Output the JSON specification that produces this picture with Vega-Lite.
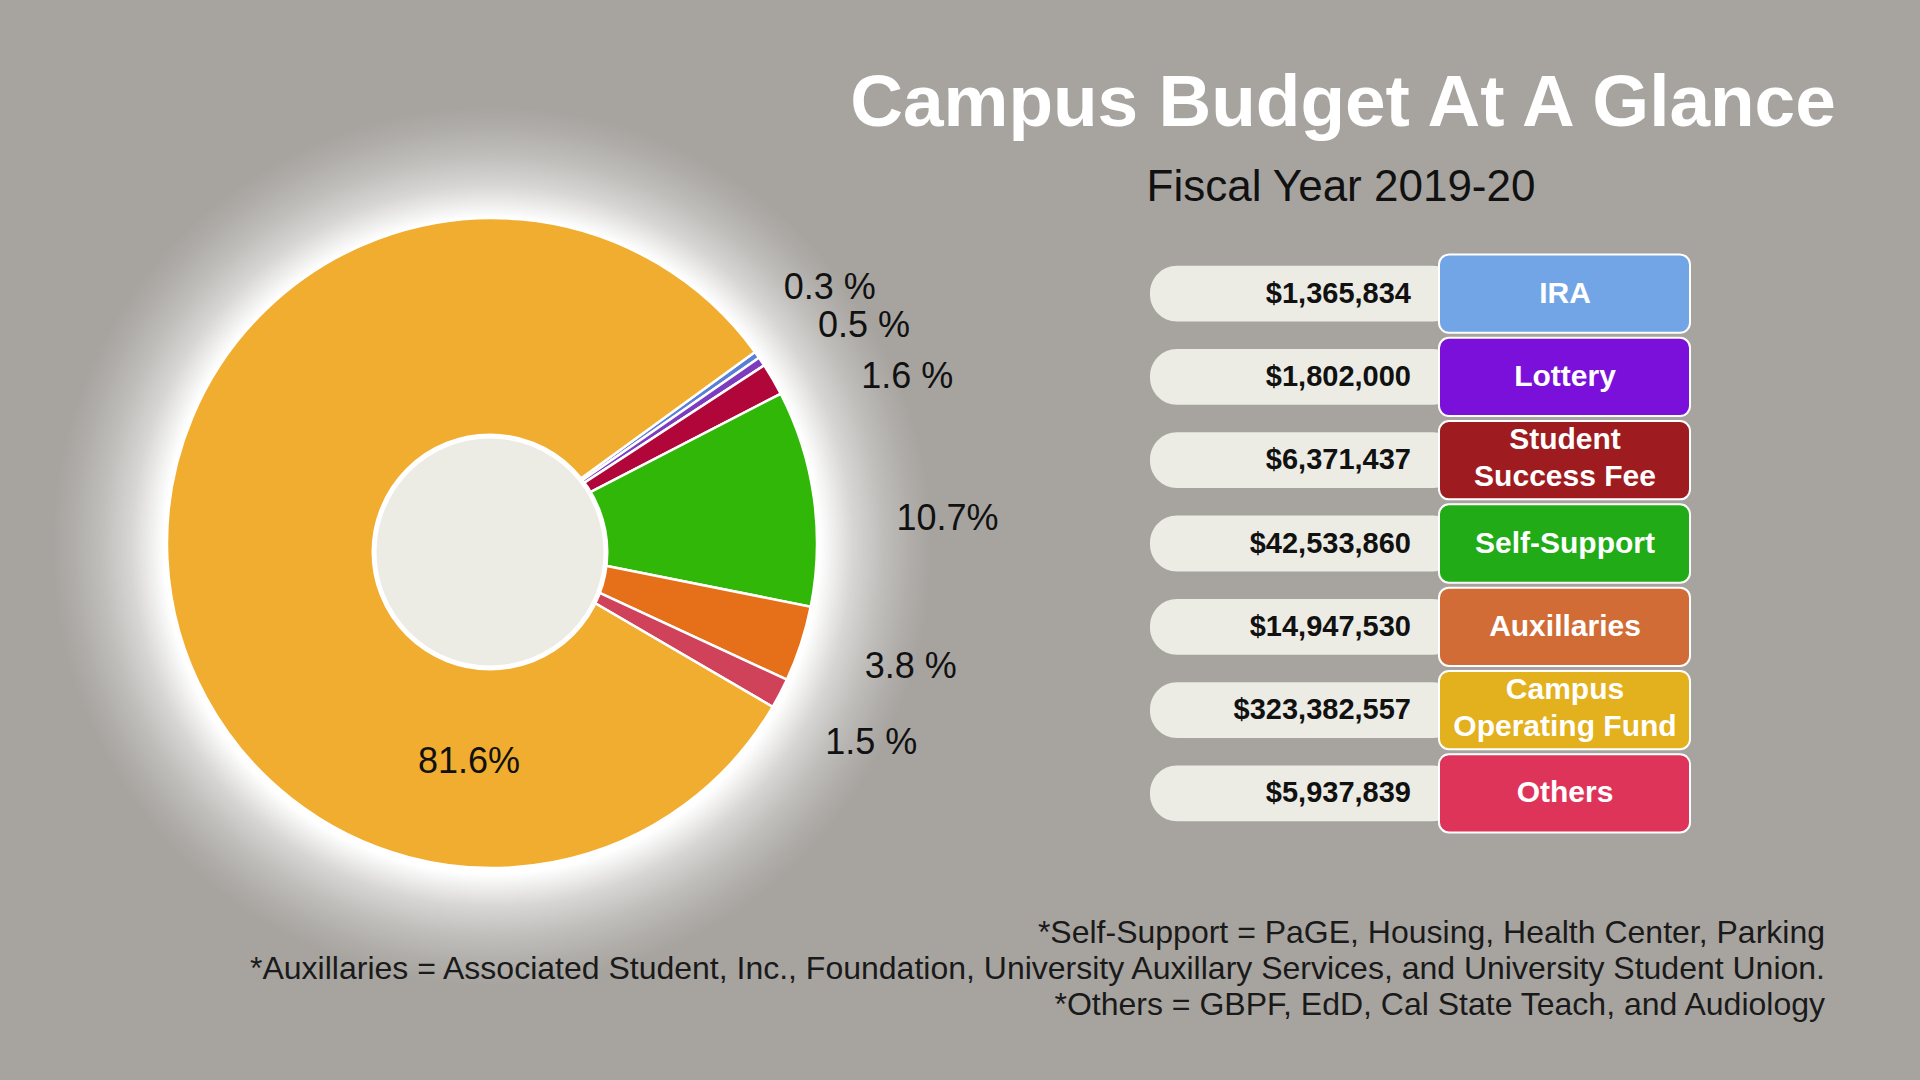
{
  "$schema": "https://vega.github.io/schema/vega-lite/v6.json",
  "width": 1920,
  "height": 1080,
  "autosize": {"type": "fit", "contains": "padding"},
  "padding": 0,
  "background": "#a7a4a0",
  "config": {"view": {"stroke": null}, "text": {"font": "Liberation Sans"}},
  "datasets": {
    "budget": [
      {"source": "IRA", "label": "IRA", "amount": 1365834, "rank": 1, "pct": "0.3 %"},
      {"source": "Lottery", "label": "Lottery", "amount": 1802000, "rank": 2, "pct": "0.5 %"},
      {"source": "Student Success Fee", "label": "Student\nSuccess Fee", "amount": 6371437, "rank": 3, "pct": "1.6 %"},
      {"source": "Self-Support", "label": "Self-Support", "amount": 42533860, "rank": 4, "pct": "10.7%"},
      {"source": "Auxillaries", "label": "Auxillaries", "amount": 14947530, "rank": 5, "pct": "3.8 %"},
      {"source": "Others", "label": "Others", "amount": 5937839, "rank": 6, "pct": "1.5 %"},
      {"source": "Campus Operating Fund", "label": "Campus\nOperating Fund", "amount": 323382557, "rank": 7, "pct": "81.6%"}
    ],
    "heading": [{"title": "Campus Budget At A Glance", "subtitle": "Fiscal Year 2019-20"}],
    "notes": [{"note": "*Self-Support = PaGE, Housing, Health Center, Parking\n*Auxillaries = Associated Student, Inc., Foundation, University Auxillary Services, and University Student Union.\n*Others = GBPF, EdD, Cal State Teach, and Audiology"}]
  },
  "layer": [
    {
      "data": {"values": [{}]},
      "mark": {
        "type": "arc", "x": 492, "y": 546, "theta": 0, "theta2": 6.2832, "outerRadius": 440,
        "fill": {"gradient": "radial", "x1": 0.5, "y1": 0.5, "r1": 0, "x2": 0.5, "y2": 0.5, "r2": 0.5,
          "stops": [
            {"offset": 0, "color": "rgba(255,255,255,1)"},
            {"offset": 0.745, "color": "rgba(255,255,255,1)"},
            {"offset": 0.77, "color": "rgba(255,255,255,0.85)"},
            {"offset": 0.82, "color": "rgba(255,255,255,0.55)"},
            {"offset": 0.89, "color": "rgba(255,255,255,0.28)"},
            {"offset": 0.95, "color": "rgba(255,255,255,0.1)"},
            {"offset": 1, "color": "rgba(255,255,255,0)"}
          ]}
      },
      "encoding": {}
    },
    {
      "data": {"name": "budget"},
      "mark": {"type": "arc", "x": 492, "y": 543, "outerRadius": 325, "stroke": "#ffffff", "strokeWidth": 2.5},
      "encoding": {
        "theta": {"field": "amount", "type": "quantitative", "stack": true, "scale": {"range": [0.9425, 7.2257]}},
        "order": {"field": "rank", "type": "quantitative"},
        "color": {
          "field": "source", "type": "nominal", "legend": null,
          "scale": {
            "domain": ["IRA", "Lottery", "Student Success Fee", "Self-Support", "Auxillaries", "Others", "Campus Operating Fund"],
            "range": ["#5a7fd8", "#7d3cbf", "#b0063a", "#31b708", "#e6701a", "#cf425a", "#f0ad2f"]
          }
        }
      }
    },
    {
      "data": {"values": [{}]},
      "mark": {"type": "arc", "x": 490, "y": 552, "theta": 0, "theta2": 6.2832, "outerRadius": 116, "fill": "#ecece4", "stroke": "#ffffff", "strokeWidth": 5},
      "encoding": {}
    },
    {
      "data": {"name": "budget"},
      "mark": {"type": "text", "x": 492, "y": 543, "radius": 440, "dx": -21, "dy": 0, "fontSize": 36, "fill": "#111111", "align": "center", "baseline": "middle"},
      "encoding": {
        "theta": {"field": "amount", "type": "quantitative", "stack": true},
        "order": {"field": "rank", "type": "quantitative"},
        "detail": {"field": "source", "type": "nominal"},
        "text": {"condition": {"test": "datum.source === 'IRA'", "field": "pct", "type": "nominal"}, "value": ""}
      }
    },
    {
      "data": {"name": "budget"},
      "mark": {"type": "text", "x": 492, "y": 543, "radius": 440, "dx": 7, "dy": 29, "fontSize": 36, "fill": "#111111", "align": "center", "baseline": "middle"},
      "encoding": {
        "theta": {"field": "amount", "type": "quantitative", "stack": true},
        "order": {"field": "rank", "type": "quantitative"},
        "detail": {"field": "source", "type": "nominal"},
        "text": {"condition": {"test": "datum.source === 'Lottery'", "field": "pct", "type": "nominal"}, "value": ""}
      }
    },
    {
      "data": {"name": "budget"},
      "mark": {"type": "text", "x": 492, "y": 543, "radius": 440, "dx": 35, "dy": 56, "fontSize": 36, "fill": "#111111", "align": "center", "baseline": "middle"},
      "encoding": {
        "theta": {"field": "amount", "type": "quantitative", "stack": true},
        "order": {"field": "rank", "type": "quantitative"},
        "detail": {"field": "source", "type": "nominal"},
        "text": {"condition": {"test": "datum.source === 'Student Success Fee'", "field": "pct", "type": "nominal"}, "value": ""}
      }
    },
    {
      "data": {"name": "budget"},
      "mark": {"type": "text", "x": 492, "y": 543, "radius": 455, "dx": 5, "dy": 39, "fontSize": 36, "fill": "#111111", "align": "center", "baseline": "middle"},
      "encoding": {
        "theta": {"field": "amount", "type": "quantitative", "stack": true},
        "order": {"field": "rank", "type": "quantitative"},
        "detail": {"field": "source", "type": "nominal"},
        "text": {"condition": {"test": "datum.source === 'Self-Support'", "field": "pct", "type": "nominal"}, "value": ""}
      }
    },
    {
      "data": {"name": "budget"},
      "mark": {"type": "text", "x": 492, "y": 543, "radius": 430, "dx": 10, "dy": -10, "fontSize": 36, "fill": "#111111", "align": "center", "baseline": "middle"},
      "encoding": {
        "theta": {"field": "amount", "type": "quantitative", "stack": true},
        "order": {"field": "rank", "type": "quantitative"},
        "detail": {"field": "source", "type": "nominal"},
        "text": {"condition": {"test": "datum.source === 'Auxillaries'", "field": "pct", "type": "nominal"}, "value": ""}
      }
    },
    {
      "data": {"name": "budget"},
      "mark": {"type": "text", "x": 492, "y": 543, "radius": 430, "dx": -2, "dy": 1, "fontSize": 36, "fill": "#111111", "align": "center", "baseline": "middle"},
      "encoding": {
        "theta": {"field": "amount", "type": "quantitative", "stack": true},
        "order": {"field": "rank", "type": "quantitative"},
        "detail": {"field": "source", "type": "nominal"},
        "text": {"condition": {"test": "datum.source === 'Others'", "field": "pct", "type": "nominal"}, "value": ""}
      }
    },
    {
      "data": {"name": "budget"},
      "mark": {"type": "text", "x": 492, "y": 543, "radius": 0, "dx": -23, "dy": 219, "fontSize": 36, "fill": "#111111", "align": "center", "baseline": "middle"},
      "encoding": {
        "theta": {"field": "amount", "type": "quantitative", "stack": true},
        "order": {"field": "rank", "type": "quantitative"},
        "detail": {"field": "source", "type": "nominal"},
        "text": {"condition": {"test": "datum.source === 'Campus Operating Fund'", "field": "pct", "type": "nominal"}, "value": ""}
      }
    },
    {
      "data": {"name": "budget"},
      "mark": {"type": "rect", "x": 1150, "x2": 1460, "height": {"band": 0.67}, "cornerRadius": 27, "fill": "#ecece4"},
      "encoding": {
        "y": {"field": "source", "type": "nominal", "axis": null,
          "sort": ["IRA", "Lottery", "Student Success Fee", "Self-Support", "Auxillaries", "Campus Operating Fund", "Others"],
          "scale": {"range": [252, 835], "paddingInner": 0, "paddingOuter": 0}}
      }
    },
    {
      "data": {"name": "budget"},
      "mark": {"type": "rect", "x": 1439, "x2": 1690, "height": {"band": 0.94}, "cornerRadius": 10, "stroke": "#ffffff", "strokeWidth": 2},
      "encoding": {
        "y": {"field": "source", "type": "nominal", "axis": null,
          "sort": ["IRA", "Lottery", "Student Success Fee", "Self-Support", "Auxillaries", "Campus Operating Fund", "Others"]},
        "fill": {
          "field": "source", "type": "nominal", "legend": null,
          "scale": {
            "domain": ["IRA", "Lottery", "Student Success Fee", "Self-Support", "Auxillaries", "Campus Operating Fund", "Others"],
            "range": ["#72a5e5", "#7a10d9", "#9e1c1f", "#20ab17", "#d26c36", "#e3b01e", "#df3459"]
          }
        }
      }
    },
    {
      "data": {"name": "budget"},
      "transform": [{"filter": "datum.source !== 'Student Success Fee' && datum.source !== 'Campus Operating Fund'"}],
      "mark": {"type": "text", "x": 1565, "fontSize": 30, "fontWeight": "bold", "fill": "#ffffff", "align": "center", "baseline": "middle"},
      "encoding": {
        "y": {"field": "source", "type": "nominal", "axis": null, "bandPosition": 0.5,
          "sort": ["IRA", "Lottery", "Student Success Fee", "Self-Support", "Auxillaries", "Campus Operating Fund", "Others"]},
        "text": {"field": "label", "type": "nominal"}
      }
    },
    {
      "data": {"name": "budget"},
      "transform": [{"filter": "datum.source === 'Student Success Fee' || datum.source === 'Campus Operating Fund'"}],
      "mark": {"type": "text", "x": 1565, "dy": -20, "fontSize": 30, "fontWeight": "bold", "fill": "#ffffff", "align": "center", "baseline": "middle", "lineBreak": "\n", "lineHeight": 37},
      "encoding": {
        "y": {"field": "source", "type": "nominal", "axis": null, "bandPosition": 0.5,
          "sort": ["IRA", "Lottery", "Student Success Fee", "Self-Support", "Auxillaries", "Campus Operating Fund", "Others"]},
        "text": {"field": "label", "type": "nominal"}
      }
    },
    {
      "data": {"name": "budget"},
      "mark": {"type": "text", "x": 1411, "fontSize": 29, "fontWeight": "bold", "fill": "#111111", "align": "right", "baseline": "middle"},
      "encoding": {
        "y": {"field": "source", "type": "nominal", "axis": null, "bandPosition": 0.5,
          "sort": ["IRA", "Lottery", "Student Success Fee", "Self-Support", "Auxillaries", "Campus Operating Fund", "Others"]},
        "text": {"field": "amount", "type": "quantitative", "format": "$,.0f"}
      }
    },
    {
      "data": {"name": "heading"},
      "mark": {"type": "text", "x": 1343, "y": 126, "fontSize": 73, "fontWeight": "bold", "fill": "#ffffff", "align": "center", "baseline": "alphabetic"},
      "encoding": {"text": {"field": "title", "type": "nominal"}}
    },
    {
      "data": {"name": "heading"},
      "mark": {"type": "text", "x": 1341, "y": 201, "fontSize": 44, "fill": "#111111", "align": "center", "baseline": "alphabetic"},
      "encoding": {"text": {"field": "subtitle", "type": "nominal"}}
    },
    {
      "data": {"name": "notes"},
      "mark": {"type": "text", "x": 1825, "y": 943, "fontSize": 32, "fill": "#1a1a1a", "align": "right", "baseline": "alphabetic", "lineBreak": "\n", "lineHeight": 36},
      "encoding": {"text": {"field": "note", "type": "nominal"}}
    }
  ]
}
